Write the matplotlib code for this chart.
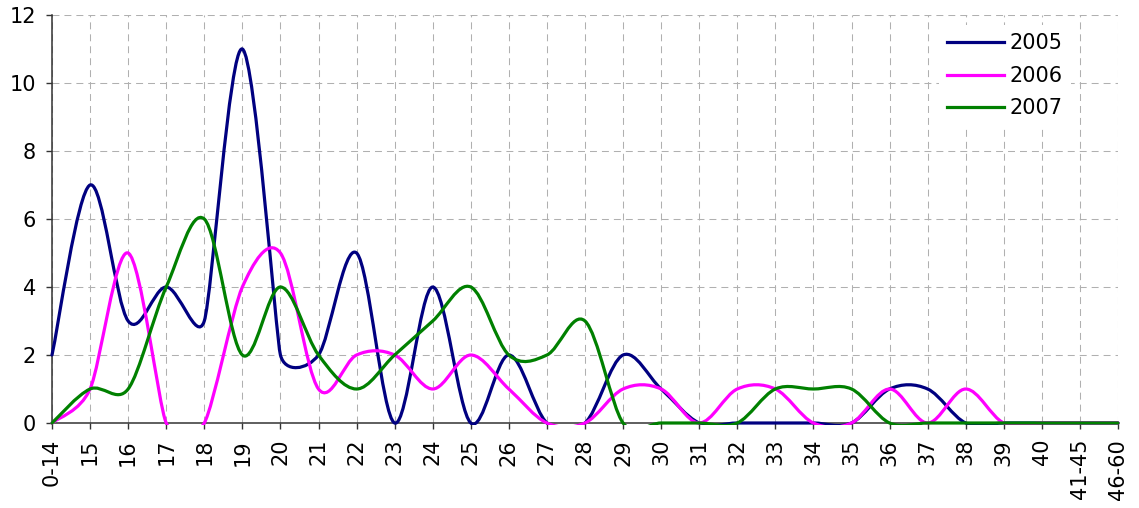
import numpy as np
import matplotlib
matplotlib.use('Agg')
import matplotlib.pyplot as plt
from matplotlib.path import Path
from matplotlib.patches import PathPatch, Rectangle
from matplotlib.lines import Line2D

ages = ['0-14', '15', '16', '17', '18', '19', '20', '21', '22', '23', '24', '25',
        '26', '27', '28', '29', '30', '31', '32', '33', '34', '35', '36', '37',
        '38', '39', '40', '41-45', '46-60']

y2005 = [2, 7, 3, 4, 3, 11, 2, 2, 5, 0, 4, 0, 2, 0, 0, 2, 1, 0, 0, 0, 0, 0, 1, 1, 0, 0, 0, 0, 0]
y2006 = [0, 1, 5, 0, 0, 4, 5, 1, 2, 2, 1, 2, 1, 0, 0, 1, 1, 0, 1, 1, 0, 0, 1, 0, 1, 0, 0, 0, 0]
y2007 = [0, 1, 1, 4, 6, 2, 4, 2, 1, 2, 3, 4, 2, 2, 3, 0, 0, 0, 0, 1, 1, 1, 0, 0, 0, 0, 0, 0, 0]

series = [('2005', y2005, '#000080'), ('2006', y2006, '#FF00FF'), ('2007', y2007, '#008000')]


def smooth_path(vals, kx, ky):
    # Excel-like smoothed line: cubic Bezier through the points, control
    # points worked out in screen proportions
    x = np.arange(len(vals), dtype=float)
    P = np.column_stack([x * kx, np.asarray(vals, float) * ky])
    n = len(P)
    c_in, c_out = P.copy(), P.copy()
    for i in range(n):
        p0, p2 = P[max(i - 1, 0)], P[min(i + 1, n - 1)]
        d = p2 - p0
        d02 = np.hypot(*d)
        if d02 == 0:
            continue
        near = [v for v in (np.hypot(*(P[i] - p0)), np.hypot(*(p2 - P[i]))) if v > 0]
        f = min(1 / 6, min(near) / (2 * d02))
        c_in[i] = P[i] - f * d
        c_out[i] = P[i] + f * d
    verts, codes = [P[0]], [Path.MOVETO]
    for i in range(n - 1):
        verts += [c_out[i], c_in[i + 1], P[i + 1]]
        codes += [Path.CURVE4] * 3
    return Path(np.array(verts) / [kx, ky], codes)


plt.rcParams['font.family'] = ['DejaVu Sans']
plt.rcParams['lines.scale_dashes'] = False

fig = plt.figure(figsize=(11.39, 5.08), dpi=100)
ax = fig.add_axes([52 / 1139, 1 - 423 / 508, (1118 - 52) / 1139, (423 - 15) / 508])

ax.set_xlim(0, len(ages) - 1)
ax.set_ylim(0, 12)
kx = 1066 / (len(ages) - 1)
ky = 408 / 12

clip = Rectangle((-0.5, -0.05), len(ages), 12.5, transform=ax.transData)
handles = []
for name, vals, col in series:
    pp = PathPatch(smooth_path(vals, kx, ky), facecolor='none', edgecolor=col,
                   lw=2.3, zorder=3, capstyle='round', joinstyle='round')
    ax.add_patch(pp)
    pp.set_clip_path(clip)
    handles.append(Line2D([], [], color=col, lw=2.3, label=name))

ax.set_xticks(range(len(ages)))
ax.set_xticklabels(ages, rotation=90)
ax.set_yticks(range(0, 13, 2))
ax.tick_params(labelsize=15, length=4.5, width=1, color='#333333', pad=7)
ax.grid(True, color='#B0B0B0', lw=0.75, linestyle=(0, (5, 3.6)))
ax.set_axisbelow(True)
for s in ['top', 'right']:
    ax.spines[s].set_visible(False)
for s in ['left', 'bottom']:
    ax.spines[s].set_color('#333333')
    ax.spines[s].set_linewidth(1.1)

leg = ax.legend(handles=handles, loc='upper left', bbox_to_anchor=(939 / 1139, 1 - 25 / 508),
                bbox_transform=fig.transFigure, fontsize=15, frameon=True, fancybox=False,
                framealpha=1, edgecolor='none', facecolor='white', borderaxespad=0,
                handlelength=2.7, handletextpad=0.3, labelspacing=0.6, borderpad=0.4)

fig.savefig('out.png', dpi=100)
